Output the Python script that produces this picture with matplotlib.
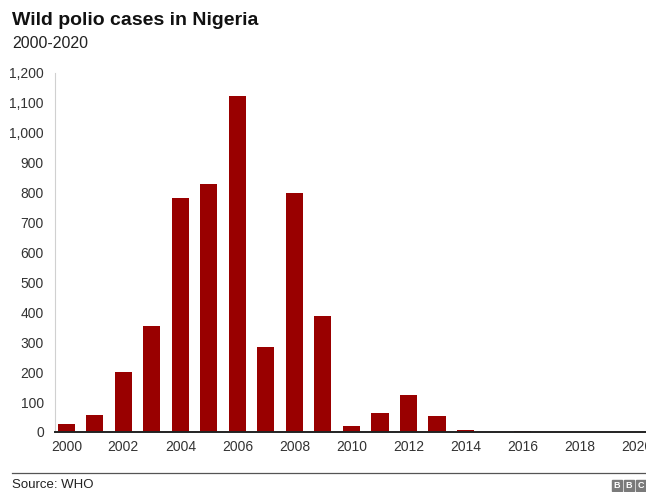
import matplotlib
matplotlib.use("Agg")
import matplotlib.pyplot as plt
from matplotlib.patches import Rectangle
from matplotlib.lines import Line2D

plt.rcParams["font.family"] = ["Liberation Sans", "DejaVu Sans"]

years = list(range(2000, 2021))
cases = [28, 56, 202, 355, 782, 830, 1122, 285, 798, 388, 21,
         62, 122, 53, 6, 0, 4, 0, 0, 0, 0]
y_ticks = list(range(0, 1201, 100))
x_ticks = list(range(2000, 2021, 2))

fig = plt.figure(figsize=(6.46, 4.92), dpi=100, facecolor="white")
ax = fig.add_axes([0.085, 0.122, 0.915, 0.7297])

ax.bar(years, cases, width=0.6, color="#990000", zorder=2)

ax.set_xlim(2000 - 0.4, 2020 + 0.33)
ax.set_ylim(0, 1200)
ax.set_yticks(y_ticks)
ax.set_yticklabels([f"{v:,}" for v in y_ticks])
ax.set_xticks(x_ticks)
ax.tick_params(axis="both", length=0, labelsize=10, colors="#333333")
ax.tick_params(axis="y", pad=8)
ax.tick_params(axis="x", pad=6)

for side in ["top", "right"]:
    ax.spines[side].set_visible(False)
ax.spines["left"].set_color("#d0d0d0")
ax.spines["left"].set_linewidth(0.8)
ax.spines["bottom"].set_color("#222222")
ax.spines["bottom"].set_linewidth(1.4)
ax.spines["bottom"].set_zorder(3)

fig.text(0.019, 0.958, "Wild polio cases in Nigeria", fontsize=14,
         fontweight="bold", color="#111111", va="center")
fig.text(0.019, 0.912, "2000-2020", fontsize=11.5, color="#222222",
         va="center")

fig.add_artist(Line2D([0.019, 1.0], [1 - 473 / 492, 1 - 473 / 492],
                      transform=fig.transFigure, color="#555555", lw=0.9))
fig.text(0.019, 1 - 485 / 492, "Source: WHO", fontsize=9.5, color="#222222",
         va="center")

# BBC logo blocks
for i, letter in enumerate("BBC"):
    x0 = (612 + i * 12) / 646
    fig.add_artist(Rectangle((x0, 1 - 491 / 492), 10 / 646, 11 / 492,
                             transform=fig.transFigure, color="#7a7a7a"))
    fig.text(x0 + 5 / 646, 1 - 485.5 / 492, letter, fontsize=6.5,
             fontweight="bold", color="white", ha="center", va="center")

fig.savefig("out.png", dpi=100, facecolor="white")
